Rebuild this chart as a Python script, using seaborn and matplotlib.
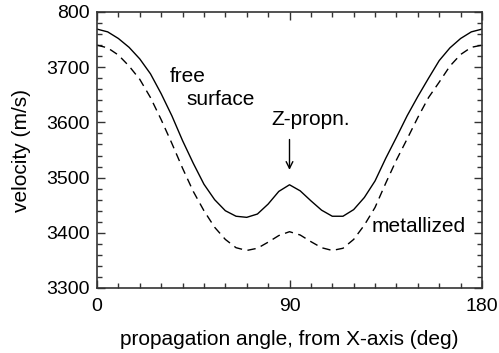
import numpy as np
import pandas as pd
import matplotlib
matplotlib.use("Agg")
import matplotlib.pyplot as plt
import seaborn as sns
from matplotlib.ticker import MultipleLocator, FixedLocator

# --- data ---
angle = [0, 5, 10, 15, 20, 25, 30, 35, 40, 45, 50, 55, 60, 65, 70, 75, 80, 85, 90,
         95, 100, 105, 110, 115, 120, 125, 130, 135, 140, 145, 150, 155, 160, 165,
         170, 175, 180]
free_surface = [3769, 3764, 3752, 3736, 3715, 3688, 3652, 3612, 3567, 3526, 3488,
                3460, 3440, 3430, 3428, 3434, 3452, 3475, 3487,
                3476, 3458, 3441, 3430, 3430, 3442, 3464, 3494, 3535, 3573, 3612,
                3647, 3680, 3712, 3735, 3752, 3764, 3769]
metallized = [3740, 3735, 3722, 3702, 3678, 3645, 3605, 3562, 3517, 3475, 3440,
              3410, 3388, 3373, 3368, 3372, 3383, 3395, 3402,
              3396, 3384, 3373, 3368, 3372, 3388, 3414, 3446, 3490, 3532, 3570,
              3609, 3645, 3673, 3702, 3723, 3736, 3740]

x_ticks = [0, 90, 180]
x_tick_labels = ["0", "90", "180"]
y_ticks = [3300, 3400, 3500, 3600, 3700, 3800]
y_tick_labels = ["3300", "3400", "3500", "3600", "3700", "800"]

df = pd.DataFrame({"angle": angle, "free": free_surface, "metal": metallized})

sns.set_theme(style="ticks")
plt.rcParams["font.family"] = ["Liberation Sans", "DejaVu Sans"]
plt.rcParams["text.color"] = "black"
plt.rcParams["axes.labelcolor"] = "black"

fig = plt.figure(figsize=(4.99, 3.53), dpi=100)
ax = fig.add_axes([97 / 499, 1 - 288 / 353, (482 - 97) / 499, (288 - 12) / 353])

sns.lineplot(data=df, x="angle", y="free", color="black", linewidth=1.0, ax=ax)
sns.lineplot(data=df, x="angle", y="metal", color="black", linewidth=1.0, ax=ax)
ax.lines[1].set_dashes([6, 4])

ax.set_xlim(0, 180)
ax.set_ylim(3300, 3800)
ax.xaxis.set_major_locator(FixedLocator(x_ticks))
ax.set_xticklabels(x_tick_labels)
ax.xaxis.set_minor_locator(MultipleLocator(10))
ax.yaxis.set_major_locator(FixedLocator(y_ticks))
ax.set_yticklabels(y_tick_labels)
ax.yaxis.set_minor_locator(MultipleLocator(20))

ax.tick_params(which="both", direction="in", top=True, right=True,
               color="#333333", labelsize=14, labelcolor="black")
ax.tick_params(which="major", length=6, width=1.0)
ax.tick_params(which="minor", length=3.6, width=1.0)
ax.tick_params(axis="x", which="major", pad=7)
ax.tick_params(axis="y", which="major", pad=5)

for s in ax.spines.values():
    s.set_color("#333333")
    s.set_linewidth(1.2)

ax.set_xlabel("propagation angle, from X-axis (deg)", fontsize=15, labelpad=11,
              color="black")
ax.set_ylabel("velocity (m/s)", fontsize=15, labelpad=11, color="black")

ax.text(34.1, 3674, "free", fontsize=15, ha="left", va="baseline", color="black")
ax.text(41.6, 3632, "surface", fontsize=15, ha="left", va="baseline", color="black")
ax.text(81.7, 3595, "Z-propn.", fontsize=15, ha="left", va="baseline", color="black")
ax.annotate("", xy=(90, 3514), xytext=(90, 3569),
            arrowprops=dict(arrowstyle="->", color="black", lw=1.0,
                            shrinkA=0, shrinkB=0, mutation_scale=12))
ax.text(128.4, 3402, "metallized", fontsize=15, ha="left", va="baseline",
        color="black")

fig.savefig("out.png", dpi=100)
